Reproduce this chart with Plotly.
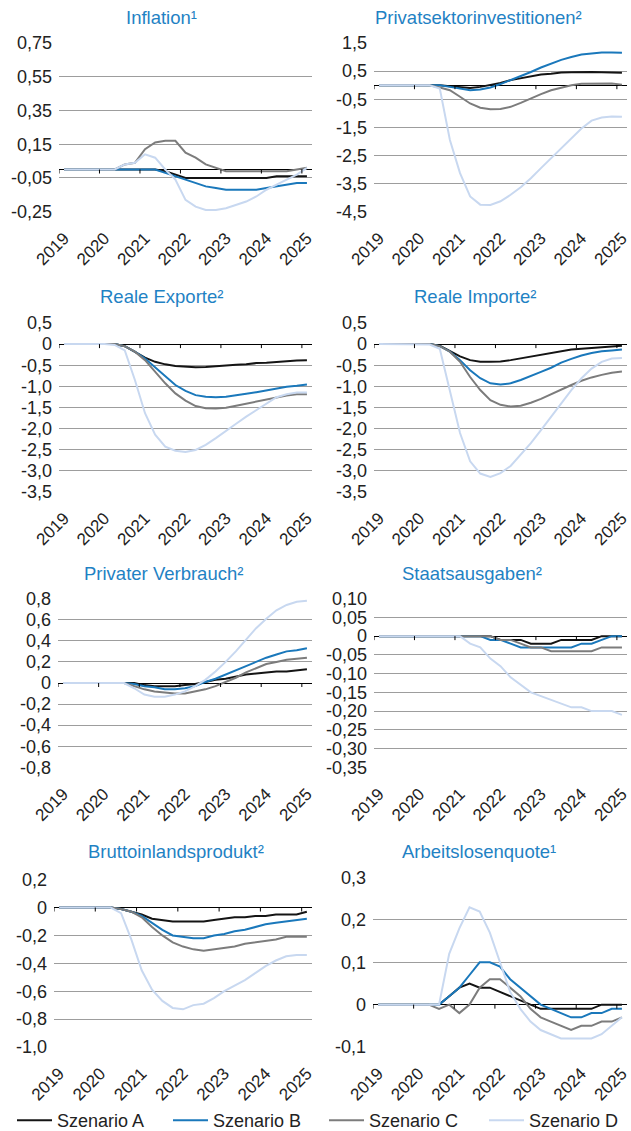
import plotly.graph_objects as go

# ---------------- data ----------------
quarters = ["2019Q1", "2019Q2", "2019Q3", "2019Q4", "2020Q1", "2020Q2", "2020Q3", "2020Q4",
            "2021Q1", "2021Q2", "2021Q3", "2021Q4", "2022Q1", "2022Q2", "2022Q3", "2022Q4",
            "2023Q1", "2023Q2", "2023Q3", "2023Q4", "2024Q1", "2024Q2", "2024Q3", "2024Q4",
            "2025Q1"]
year_labels = ["2019", "2020", "2021", "2022", "2023", "2024", "2025"]
scenario_names = ["Szenario A", "Szenario B", "Szenario C", "Szenario D"]

titles = ["Inflation¹", "Privatsektorinvestitionen²", "Reale Exporte²", "Reale Importe²",
          "Privater Verbrauch²", "Staatsausgaben²", "Bruttoinlandsprodukt²", "Arbeitslosenquote¹"]

# Inflation
infl_a = [0, 0, 0, 0, 0, 0, 0, 0, 0, 0, -0.01, -0.03, -0.05, -0.05, -0.05, -0.05, -0.05, -0.05, -0.05, -0.05, -0.05, -0.04, -0.04, -0.04, -0.04]
infl_b = [0, 0, 0, 0, 0, 0, 0, 0, 0, 0, -0.02, -0.04, -0.06, -0.08, -0.10, -0.11, -0.12, -0.12, -0.12, -0.12, -0.11, -0.10, -0.09, -0.08, -0.08]
infl_c = [0, 0, 0, 0, 0, 0, 0.03, 0.04, 0.12, 0.16, 0.17, 0.17, 0.10, 0.07, 0.03, 0.01, -0.01, -0.01, -0.01, -0.01, -0.01, -0.01, -0.01, 0.0, 0.01]
infl_d = [0, 0, 0, 0, 0, 0, 0.03, 0.04, 0.09, 0.07, 0.0, -0.06, -0.18, -0.22, -0.24, -0.24, -0.23, -0.21, -0.19, -0.16, -0.12, -0.09, -0.06, -0.03, 0.01]

# Privatsektorinvestitionen
inv_a = [0, 0, 0, 0, 0, 0, 0, -0.04, -0.08, -0.10, -0.06, 0.0, 0.08, 0.18, 0.24, 0.32, 0.38, 0.41, 0.45, 0.46, 0.47, 0.47, 0.46, 0.45, 0.44]
inv_b = [0, 0, 0, 0, 0, 0, 0, -0.06, -0.13, -0.18, -0.15, -0.08, 0.04, 0.18, 0.32, 0.47, 0.63, 0.77, 0.90, 1.00, 1.09, 1.13, 1.16, 1.16, 1.15]
inv_c = [0, 0, 0, 0, 0, 0, -0.08, -0.18, -0.41, -0.65, -0.80, -0.86, -0.85, -0.77, -0.63, -0.47, -0.32, -0.18, -0.08, 0.0, 0.05, 0.06, 0.06, 0.06, 0.02]
inv_d = [0, 0, 0, 0, 0, 0, -0.12, -1.95, -3.13, -3.96, -4.25, -4.26, -4.13, -3.90, -3.63, -3.31, -2.95, -2.60, -2.24, -1.89, -1.54, -1.26, -1.15, -1.11, -1.12]

# Reale Exporte
exp_a = [0, 0, 0, 0, 0, 0, -0.05, -0.18, -0.32, -0.42, -0.48, -0.52, -0.54, -0.55, -0.54, -0.52, -0.51, -0.49, -0.48, -0.45, -0.44, -0.42, -0.41, -0.39, -0.38]
exp_b = [0, 0, 0, 0, 0, 0, -0.05, -0.18, -0.34, -0.55, -0.78, -0.97, -1.11, -1.21, -1.25, -1.26, -1.25, -1.22, -1.18, -1.14, -1.10, -1.05, -1.01, -0.99, -0.96]
exp_c = [0, 0, 0, 0, 0, 0, -0.05, -0.18, -0.38, -0.66, -0.93, -1.17, -1.34, -1.47, -1.52, -1.53, -1.51, -1.46, -1.41, -1.37, -1.31, -1.26, -1.22, -1.19, -1.19]
exp_d = [0, 0, 0, 0, 0, -0.02, -0.15, -0.85, -1.64, -2.15, -2.43, -2.53, -2.56, -2.51, -2.39, -2.23, -2.07, -1.89, -1.72, -1.56, -1.41, -1.26, -1.19, -1.15, -1.15]

# Reale Importe
imp_a = [0, 0, 0, 0, 0, 0, -0.04, -0.16, -0.29, -0.38, -0.42, -0.42, -0.41, -0.38, -0.34, -0.30, -0.26, -0.21, -0.17, -0.13, -0.11, -0.09, -0.07, -0.05, -0.04]
imp_b = [0, 0, 0, 0, 0, 0, -0.05, -0.18, -0.38, -0.62, -0.81, -0.93, -0.96, -0.93, -0.85, -0.76, -0.66, -0.56, -0.44, -0.35, -0.27, -0.21, -0.17, -0.15, -0.13]
imp_c = [0, 0, 0, 0, 0, 0, -0.05, -0.18, -0.42, -0.78, -1.09, -1.33, -1.44, -1.48, -1.46, -1.39, -1.30, -1.19, -1.07, -0.97, -0.87, -0.79, -0.73, -0.68, -0.65]
imp_d = [0, 0, 0, 0, 0, -0.01, -0.11, -1.09, -2.11, -2.78, -3.07, -3.15, -3.06, -2.89, -2.63, -2.35, -2.04, -1.72, -1.41, -1.09, -0.81, -0.58, -0.42, -0.34, -0.33]

# Privater Verbrauch
con_a = [0, 0, 0, 0, 0, 0, 0, 0, -0.02, -0.03, -0.03, -0.03, -0.02, -0.01, 0.01, 0.03, 0.04, 0.06, 0.08, 0.09, 0.10, 0.11, 0.11, 0.12, 0.13]
con_b = [0, 0, 0, 0, 0, 0, 0, -0.01, -0.03, -0.04, -0.06, -0.06, -0.05, -0.03, 0.01, 0.04, 0.08, 0.12, 0.16, 0.20, 0.24, 0.27, 0.30, 0.31, 0.33]
con_c = [0, 0, 0, 0, 0, 0, 0, -0.03, -0.06, -0.08, -0.09, -0.10, -0.10, -0.08, -0.06, -0.03, 0.01, 0.05, 0.10, 0.14, 0.18, 0.20, 0.22, 0.23, 0.24]
con_d = [0, 0, 0, 0, 0, 0, 0, -0.05, -0.11, -0.13, -0.13, -0.11, -0.08, -0.03, 0.03, 0.11, 0.20, 0.30, 0.41, 0.52, 0.61, 0.69, 0.74, 0.77, 0.78]

# Staatsausgaben
gov_a = [0, 0, 0, 0, 0, 0, 0, 0, 0, 0, 0, 0, -0.01, -0.01, -0.01, -0.02, -0.02, -0.02, -0.01, -0.01, -0.01, -0.01, 0, 0, 0]
gov_b = [0, 0, 0, 0, 0, 0, 0, 0, 0, 0, 0, -0.01, -0.01, -0.02, -0.03, -0.03, -0.03, -0.03, -0.03, -0.03, -0.02, -0.02, -0.01, 0, 0]
gov_c = [0, 0, 0, 0, 0, 0, 0, 0, 0, 0, 0, 0, -0.01, -0.01, -0.02, -0.03, -0.03, -0.04, -0.04, -0.04, -0.04, -0.04, -0.03, -0.03, -0.03]
gov_d = [0, 0, 0, 0, 0, 0, 0, 0, 0, -0.02, -0.03, -0.06, -0.08, -0.11, -0.13, -0.15, -0.16, -0.17, -0.18, -0.19, -0.19, -0.20, -0.20, -0.20, -0.21]

# Bruttoinlandsprodukt
gdp_a = [0, 0, 0, 0, 0, 0, -0.01, -0.03, -0.05, -0.08, -0.09, -0.10, -0.10, -0.10, -0.10, -0.09, -0.08, -0.07, -0.07, -0.06, -0.06, -0.05, -0.05, -0.05, -0.03]
gdp_b = [0, 0, 0, 0, 0, 0, -0.01, -0.03, -0.06, -0.11, -0.16, -0.20, -0.21, -0.22, -0.22, -0.20, -0.19, -0.17, -0.16, -0.14, -0.12, -0.11, -0.10, -0.09, -0.08]
gdp_c = [0, 0, 0, 0, 0, 0, -0.01, -0.03, -0.07, -0.14, -0.20, -0.25, -0.28, -0.30, -0.31, -0.30, -0.29, -0.28, -0.26, -0.25, -0.24, -0.23, -0.21, -0.21, -0.21]
gdp_d = [0, 0, 0, 0, 0, 0, -0.04, -0.23, -0.45, -0.59, -0.67, -0.72, -0.73, -0.70, -0.69, -0.65, -0.60, -0.56, -0.52, -0.47, -0.42, -0.38, -0.35, -0.34, -0.34]

# Arbeitslosenquote
unemp_a = [0, 0, 0, 0, 0, 0, 0, 0.02, 0.04, 0.05, 0.04, 0.04, 0.03, 0.02, 0.01, 0.0, -0.01, -0.01, -0.01, -0.01, -0.01, -0.01, 0, 0, 0]
unemp_b = [0, 0, 0, 0, 0, 0, 0, 0.02, 0.04, 0.07, 0.10, 0.10, 0.09, 0.06, 0.04, 0.02, 0.0, -0.01, -0.02, -0.03, -0.03, -0.02, -0.02, -0.01, -0.01]
unemp_c = [0, 0, 0, 0, 0, 0, -0.01, 0.0, -0.02, 0.0, 0.04, 0.06, 0.06, 0.04, 0.02, -0.01, -0.03, -0.04, -0.05, -0.06, -0.05, -0.05, -0.04, -0.04, -0.03]
unemp_d = [0, 0, 0, 0, 0, 0, 0, 0.12, 0.18, 0.23, 0.22, 0.17, 0.10, 0.03, -0.01, -0.04, -0.06, -0.07, -0.08, -0.08, -0.08, -0.08, -0.07, -0.05, -0.03]

# y axis ticks per panel
yticks_1 = [-0.25, -0.05, 0.15, 0.35, 0.55, 0.75]
ylabels_1 = ["-0,25", "-0,05", "0,15", "0,35", "0,55", "0,75"]
yticks_2 = [-4.5, -3.5, -2.5, -1.5, -0.5, 0.5, 1.5]
ylabels_2 = ["-4,5", "-3,5", "-2,5", "-1,5", "-0,5", "0,5", "1,5"]
yticks_3 = [-3.5, -3.0, -2.5, -2.0, -1.5, -1.0, -0.5, 0, 0.5]
ylabels_3 = ["-3,5", "-3,0", "-2,5", "-2,0", "-1,5", "-1,0", "-0,5", "0", "0,5"]
yticks_4 = yticks_3
ylabels_4 = ylabels_3
yticks_5 = [-0.8, -0.6, -0.4, -0.2, 0, 0.2, 0.4, 0.6, 0.8]
ylabels_5 = ["-0,8", "-0,6", "-0,4", "-0,2", "0", "0,2", "0,4", "0,6", "0,8"]
yticks_6 = [-0.35, -0.30, -0.25, -0.20, -0.15, -0.10, -0.05, 0, 0.05, 0.10]
ylabels_6 = ["-0,35", "-0,30", "-0,25", "-0,20", "-0,15", "-0,10", "-0,05", "0", "0,05", "0,10"]
yticks_7 = [-1.0, -0.8, -0.6, -0.4, -0.2, 0, 0.2]
ylabels_7 = ["-1,0", "-0,8", "-0,6", "-0,4", "-0,2", "0", "0,2"]
yticks_8 = [-0.1, 0, 0.1, 0.2, 0.3]
ylabels_8 = ["-0,1", "0", "0,1", "0,2", "0,3"]

# ---------------- styling / layout ----------------
W, H = 631, 1131
colors = ["#141414", "#1a78bb", "#7c7c7c", "#c8d8f0"]
title_color = "#1f82c4"
text_color = "#222222"
font_family = "Liberation Sans, Arial, Helvetica, sans-serif"

panels = [
    (titles[0], [infl_a, infl_b, infl_c, infl_d], yticks_1, ylabels_1),
    (titles[1], [inv_a, inv_b, inv_c, inv_d], yticks_2, ylabels_2),
    (titles[2], [exp_a, exp_b, exp_c, exp_d], yticks_3, ylabels_3),
    (titles[3], [imp_a, imp_b, imp_c, imp_d], yticks_4, ylabels_4),
    (titles[4], [con_a, con_b, con_c, con_d], yticks_5, ylabels_5),
    (titles[5], [gov_a, gov_b, gov_c, gov_d], yticks_6, ylabels_6),
    (titles[6], [gdp_a, gdp_b, gdp_c, gdp_d], yticks_7, ylabels_7),
    (titles[7], [unemp_a, unemp_b, unemp_c, unemp_d], yticks_8, ylabels_8),
]

# pixel boxes of the plot areas: (left, right, top, bottom)
boxes = [
    (59, 312, 42.7, 212), (374, 627, 42.7, 212),
    (59, 312, 322.7, 492), (374, 627, 322.7, 492),
    (58, 312, 598.3, 767.7), (374, 627, 598.3, 767.7),
    (54, 312, 879.3, 1047.3), (373, 627, 877.3, 1047.3),
]
# title centres in pixels
title_pos = [(161, 18), (478, 18), (162, 296), (475, 296),
             (163, 573), (472, 573), (176, 851), (479, 851)]
legend_of = ["legend", "legend", "legend2", "legend2"]

x_idx = list(range(len(quarters)))
label_vals = [i for i in x_idx if i % 4 == 0]
year_tick_pos = [i - 0.5 for i in label_vals]

fig = go.Figure()
shapes = []
annotations = []
layout_axes = {}

for k, (title, series, ytv, ytt) in enumerate(panels):
    n = k + 1
    xa = "x" if n == 1 else f"x{n}"
    ya = "y" if n == 1 else f"y{n}"
    for s, (vals, name, col) in enumerate(zip(series, scenario_names, colors)):
        fig.add_trace(go.Scatter(
            x=x_idx, y=vals, mode="lines", name=name,
            line=dict(color=col, width=2),
            xaxis=xa, yaxis=ya, showlegend=(k == 0),
            hovertext=quarters, legendgroup=name, legend=legend_of[s],
        ))
    l, r, t, b = boxes[k]
    ymin, ymax = min(ytv), max(ytv)
    pad = (ymax - ymin) * 0.002
    layout_axes[f"xaxis{n if n > 1 else ''}"] = dict(
        domain=[l / W, r / W], anchor=ya, range=[-0.5, len(quarters) - 0.5],
        showgrid=False, zeroline=False, showline=False, automargin=False,
        tickmode="array", tickvals=label_vals, ticktext=year_labels,
        tickangle=-45, ticks="", ticklabelstandoff=12,
        tickfont=dict(size=17, color=text_color),
        fixedrange=True,
    )
    layout_axes[f"yaxis{n if n > 1 else ''}"] = dict(
        domain=[1 - b / H, 1 - t / H], anchor=xa, range=[ymin - pad, ymax + pad],
        tickmode="array", tickvals=ytv, ticktext=ytt, automargin=False,
        showgrid=True, gridcolor="#9d9d9d", gridwidth=1,
        zeroline=True, zerolinecolor="#000000", zerolinewidth=1.3,
        showline=False, ticks="", ticklabelstandoff=6,
        tickfont=dict(size=18, color=text_color), fixedrange=True,
    )
    for tx in year_tick_pos:
        shapes.append(dict(type="line", xref=xa, yref=ya, x0=tx, x1=tx,
                           ysizemode="pixel", yanchor=0, y0=0, y1=-4,
                           line=dict(color="#000000", width=1)))
    cx, cy = title_pos[k]
    annotations.append(dict(text=title, x=cx / W, y=1 - cy / H, xref="paper", yref="paper",
                            xanchor="center", yanchor="middle", showarrow=False,
                            font=dict(size=18.5, color=title_color)))

legend_style = dict(orientation="h", y=-8 / H, xanchor="left", yanchor="bottom",
                    entrywidthmode="pixels", itemwidth=35, font=dict(size=18, color=text_color),
                    bgcolor="rgba(0,0,0,0)", traceorder="normal")

fig.update_layout(
    width=W, height=H, autosize=False,
    margin=dict(l=0, r=0, t=0, b=0, autoexpand=False),
    paper_bgcolor="white", plot_bgcolor="white",
    font=dict(family=font_family, color=text_color),
    shapes=shapes, annotations=annotations,
    legend=dict(x=12 / W, entrywidth=106, **legend_style),
    legend2=dict(x=324 / W, entrywidth=110, **legend_style),
    **layout_axes,
)

fig.write_html("out.html", post_script="document.body.style.margin='0';",
               config={"displayModeBar": False})
